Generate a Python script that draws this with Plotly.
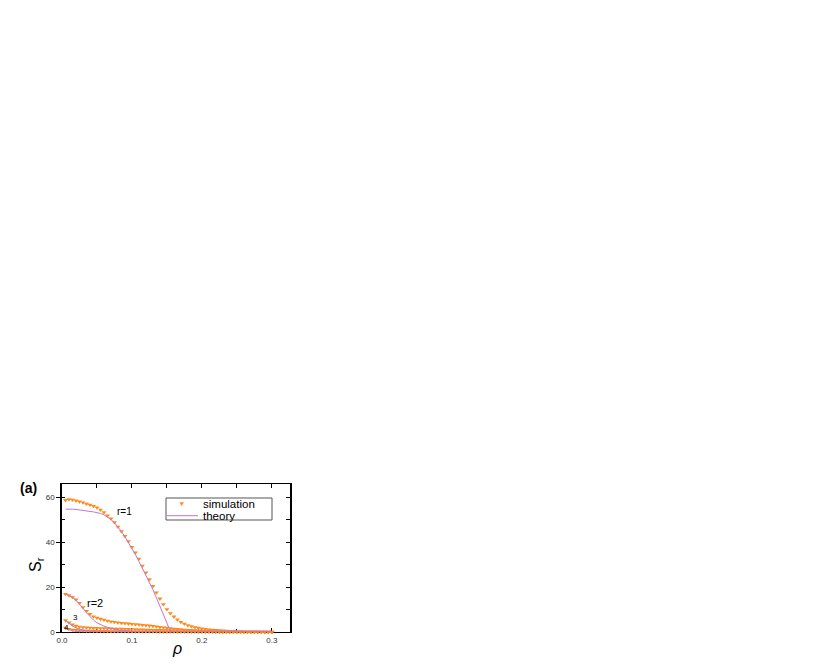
import plotly.graph_objects as go

W, H = 830, 664
OFF = 8  # page body margin offset

RHO = [0.005, 0.010, 0.015, 0.020, 0.025, 0.030, 0.035, 0.040, 0.045, 0.050,
       0.055, 0.060, 0.065, 0.070, 0.075, 0.080, 0.085, 0.090, 0.095, 0.100,
       0.105, 0.110, 0.115, 0.120, 0.125, 0.130, 0.135, 0.140, 0.145, 0.150,
       0.155, 0.160, 0.165, 0.170, 0.175, 0.180, 0.185, 0.190, 0.195, 0.200,
       0.205, 0.210, 0.215, 0.220, 0.225, 0.230, 0.235, 0.240, 0.245, 0.250,
       0.255, 0.260, 0.265, 0.270, 0.275, 0.280, 0.285, 0.290, 0.295, 0.300]

SIM_R1 = [58.6, 59.0, 58.8, 58.4, 58.0, 57.5, 57.0, 56.5, 56.0, 55.3,
          54.3, 53.2, 51.8, 50.4, 48.8, 46.8, 44.8, 42.6, 40.3, 37.8,
          35.3, 32.5, 29.4, 26.4, 23.4, 20.4, 17.5, 14.8, 12.3, 10.1,
          8.3, 6.8, 5.5, 4.4, 3.6, 3.0, 2.5, 2.1, 1.8, 1.5,
          1.3, 1.1, 0.95, 0.8, 0.7, 0.6, 0.5, 0.43, 0.37, 0.32,
          0.27, 0.23, 0.2, 0.17, 0.15, 0.13, 0.11, 0.1, 0.09, 0.08]

TH_R1 = [54.6, 54.7, 54.6, 54.5, 54.2, 54.0, 53.8, 53.6, 53.4, 53.1,
         52.7, 52.1, 51.2, 50.0, 48.6, 46.8, 44.7, 42.4, 39.9, 37.3,
         34.4, 31.4, 28.3, 25.3, 22.2, 18.8, 15.2, 11.6, 8.0, 3.8,
         0.3, 0, 0, 0, 0, 0, 0, 0, 0, 0,
         0, 0, 0, 0, 0, 0, 0, 0, 0, 0,
         0, 0, 0, 0, 0, 0, 0, 0, 0, 0]

SIM_R2 = [16.9, 16.3, 15.5, 14.4, 12.9, 11.0, 9.3, 8.0, 6.9, 6.3,
          5.8, 5.4, 5.0, 4.6, 4.4, 4.2, 4.0, 3.9, 3.7, 3.5,
          3.4, 3.3, 3.1, 3.0, 2.8, 2.6, 2.4, 2.2, 2.0, 1.8,
          1.6, 1.45, 1.3, 1.15, 1.0, 0.9, 0.8, 0.7, 0.6, 0.52,
          0.45, 0.4, 0.35, 0.3, 0.26, 0.22, 0.19, 0.16, 0.14, 0.12,
          0.1, 0.09, 0.08, 0.07, 0.06, 0.05, 0.05, 0.04, 0.04, 0.03]

TH_R2 = [16.9, 16.2, 15.3, 14.1, 12.5, 10.6, 8.6, 6.8, 5.3, 4.1,
         3.2, 2.6, 2.1, 1.6, 1.2, 0.9, 0.7, 0.5, 0.35, 0.25,
         0.15, 0.1, 0.05, 0, 0, 0, 0, 0, 0, 0,
         0, 0, 0, 0, 0, 0, 0, 0, 0, 0,
         0, 0, 0, 0, 0, 0, 0, 0, 0, 0,
         0, 0, 0, 0, 0, 0, 0, 0, 0, 0]

SIM_R3 = [5.2, 4.2, 3.3, 2.7, 2.3, 2.1, 1.95, 1.85, 1.75, 1.7,
          1.65, 1.6, 1.55, 1.5, 1.45, 1.4, 1.35, 1.3, 1.25, 1.2,
          1.15, 1.1, 1.05, 1.0, 0.95, 0.9, 0.85, 0.8, 0.75, 0.7,
          0.65, 0.6, 0.55, 0.5, 0.46, 0.42, 0.38, 0.34, 0.3, 0.27,
          0.24, 0.21, 0.18, 0.16, 0.14, 0.12, 0.1, 0.09, 0.08, 0.07,
          0.06, 0.05, 0.04, 0.04, 0.03, 0.03, 0.02, 0.02, 0.02, 0.01]

TH_R3 = [5.2, 3.9, 2.7, 1.8, 1.2, 0.8, 0.5, 0.3, 0.2, 0.1,
         0.05, 0, 0, 0, 0, 0, 0, 0, 0, 0,
         0, 0, 0, 0, 0, 0, 0, 0, 0, 0,
         0, 0, 0, 0, 0, 0, 0, 0, 0, 0,
         0, 0, 0, 0, 0, 0, 0, 0, 0, 0,
         0, 0, 0, 0, 0, 0, 0, 0, 0, 0]

SIM_R4 = [1.8, 1.3, 1.0, 0.8, 0.7, 0.6, 0.55, 0.5, 0.47, 0.44,
          0.41, 0.38, 0.36, 0.34, 0.32, 0.3, 0.28, 0.26, 0.24, 0.22,
          0.21, 0.2, 0.19, 0.18, 0.17, 0.16, 0.15, 0.14, 0.13, 0.12,
          0.11, 0.1, 0.09, 0.08, 0.08, 0.07, 0.06, 0.06, 0.05, 0.05,
          0.045, 0.04, 0.04, 0.035, 0.03, 0.03, 0.025, 0.02, 0.02, 0.02,
          0.015, 0.015, 0.01, 0.01, 0.01, 0.01, 0.005, 0.005, 0.005, 0.005]

TH_R4 = [1.8, 1.0, 0.5, 0.25, 0.1, 0.05, 0, 0, 0, 0,
         0, 0, 0, 0, 0, 0, 0, 0, 0, 0,
         0, 0, 0, 0, 0, 0, 0, 0, 0, 0,
         0, 0, 0, 0, 0, 0, 0, 0, 0, 0,
         0, 0, 0, 0, 0, 0, 0, 0, 0, 0,
         0, 0, 0, 0, 0, 0, 0, 0, 0, 0]

SIM_SERIES = [SIM_R1, SIM_R2, SIM_R3, SIM_R4]
TH_SERIES = [TH_R1, TH_R2, TH_R3, TH_R4]

CURVE_LABELS = ["r=1", "r=2", "3", "4"]
X_TICKS = [0.0, 0.1, 0.2, 0.3]
X_TICKTEXT = ["0.0", "0.1", "0.2", "0.3"]
Y_TICKS = [0, 20, 40, 60]

SIM_COLOR = "#FF8A1C"
TH_COLOR = "#C277CC"
FONT = "Liberation Sans, Arial, sans-serif"


def px(x):
    return (x - OFF) / W


def py(y):
    return 1 - (y - OFF) / H


fig = go.Figure()
for s in SIM_SERIES:
    fig.add_trace(go.Scatter(
        x=RHO, y=s, mode="markers",
        marker=dict(symbol="triangle-down", size=4.4, color=SIM_COLOR,
                    line=dict(width=0)),
        showlegend=False, cliponaxis=False))
for t in TH_SERIES:
    fig.add_trace(go.Scatter(
        x=RHO, y=t, mode="lines",
        line=dict(color=TH_COLOR, width=1),
        showlegend=False))

# invisible trace to activate mirrored tick axes
fig.add_trace(go.Scatter(x=[0.1], y=[10], xaxis="x2", yaxis="y2",
                         mode="markers", marker=dict(opacity=0),
                         showlegend=False, hoverinfo="skip"))

XR = [0, 0.326]
YR = [0, 65.8]
XD = [px(62), px(290)]
YD = [py(632), py(484)]

fig.update_layout(
    width=W, height=H,
    margin=dict(l=0, r=0, t=0, b=0, autoexpand=False),
    paper_bgcolor="white", plot_bgcolor="white",
    showlegend=False,
    font=dict(family=FONT, color="#333333", size=8),
    xaxis=dict(domain=XD, range=XR, tickvals=X_TICKS, ticktext=X_TICKTEXT,
               ticks="inside", ticklen=4, tickcolor="black", automargin=False,
               minor=dict(dtick=0.05, ticks="inside", ticklen=3, tickcolor="black"),
               showline=True, linecolor="black", linewidth=1.3,
               showgrid=False, zeroline=False, layer="below traces",
               tickfont=dict(size=8, color="#333333")),
    yaxis=dict(domain=YD, range=YR, tickvals=Y_TICKS, automargin=False,
               ticks="outside", ticklen=4, tickcolor="black",
               minor=dict(dtick=10, ticks="inside", ticklen=3, tickcolor="black"),
               showline=True, linecolor="black", linewidth=1.5,
               showgrid=False, zeroline=False,
               tickfont=dict(size=8, color="#333333")),
    xaxis2=dict(overlaying="x", side="top", anchor="y", range=XR, dtick=0.05, tick0=0,
                ticks="inside", ticklen=4, tickcolor="black", automargin=False,
                showticklabels=False, showline=True, linecolor="black", linewidth=1.3,
                showgrid=False, zeroline=False),
    yaxis2=dict(overlaying="y", side="right", anchor="x", range=YR, dtick=10, tick0=0,
                ticks="inside", ticklen=4, tickcolor="black", automargin=False,
                showticklabels=False, showline=True, linecolor="black", linewidth=1.5,
                showgrid=False, zeroline=False),
)

ann = []
ann.append(dict(x=px(28), y=py(488), text="<b>(a)</b>", font=dict(size=14, color="black", family=FONT)))
ann.append(dict(x=px(36), y=py(565), text="S<sub>r</sub>", textangle=-90,
                font=dict(size=16, color="black", family=FONT)))
ann.append(dict(x=px(177), y=py(648), text="<i>ρ</i>", font=dict(size=16, color="black", family=FONT)))
label_pos = [(124, 511, 10), (95, 603, 11), (75, 617.5, 8), (66.5, 627.5, 8)]
for lab, (lx, ly, fs) in zip(CURVE_LABELS, label_pos):
    ann.append(dict(x=px(lx), y=py(ly), text=lab, font=dict(size=fs, color="black", family=FONT)))
# legend texts
ann.append(dict(x=px(201), y=py(503.6), text="simulation", xanchor="left",
                font=dict(size=11.5, color="black", family=FONT)))
ann.append(dict(x=px(201), y=py(516), text="theory", xanchor="left",
                font=dict(size=11.5, color="black", family=FONT)))
for a in ann:
    a.setdefault("xanchor", "center")
    a["yanchor"] = "middle"
    a["xref"] = "paper"
    a["yref"] = "paper"
    a["showarrow"] = False
fig.update_layout(annotations=ann)

shapes = [
    dict(type="rect", xref="paper", yref="paper",
         x0=px(166), x1=px(272), y0=py(520), y1=py(498),
         line=dict(color="#555555", width=1), fillcolor="white", layer="above"),
    dict(type="line", xref="paper", yref="paper",
         x0=px(167), x1=px(198), y0=py(515.7), y1=py(515.7),
         line=dict(color=TH_COLOR, width=1), layer="above"),
    dict(type="path", xref="paper", yref="paper",
         path="M {:.5f},{:.5f} L {:.5f},{:.5f} L {:.5f},{:.5f} Z".format(
             px(179.9), py(502.5), px(183.5), py(502.5), px(181.7), py(505.6)),
         line=dict(color=SIM_COLOR, width=0.5), fillcolor=SIM_COLOR, layer="above"),
]
fig.update_layout(shapes=shapes)

fig.write_html("out.html")
